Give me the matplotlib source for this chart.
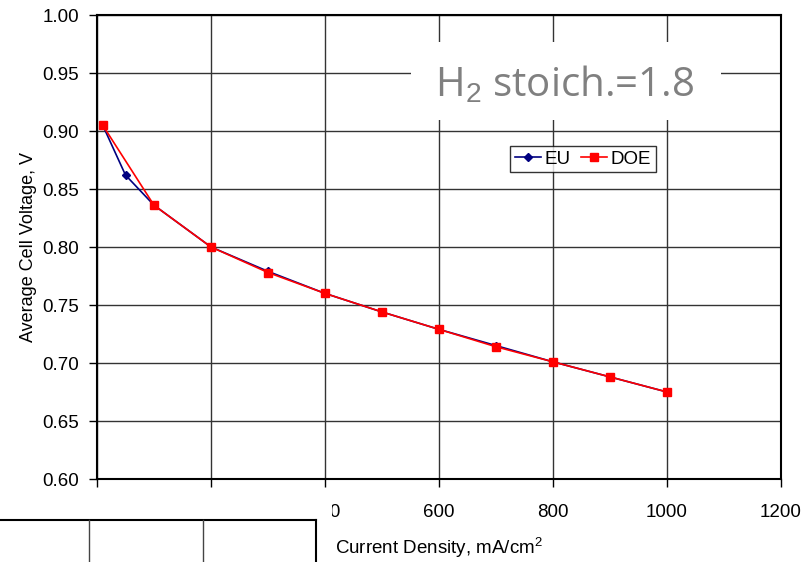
import matplotlib
matplotlib.use("Agg")
import matplotlib.pyplot as plt
from matplotlib.patches import Rectangle
from matplotlib.lines import Line2D

plt.rcParams['font.family'] = ['Liberation Sans', 'DejaVu Sans']
plt.rcParams['mathtext.fontset'] = 'custom'
plt.rcParams['mathtext.rm'] = 'Liberation Sans'

# data
current = [10, 50, 100, 200, 300, 400, 500, 600, 700, 800, 900, 1000]
eu_volt = [0.905, 0.862, 0.836, 0.800, 0.779, 0.760, 0.744, 0.729, 0.715, 0.701, 0.688, 0.675]
doe_current = [10, 100, 200, 300, 400, 500, 600, 700, 800, 900, 1000]
doe_volt = [0.905, 0.836, 0.800, 0.778, 0.760, 0.744, 0.729, 0.714, 0.701, 0.688, 0.675]

x_ticks = [0, 200, 400, 600, 800, 1000, 1200]
y_ticks = [0.60, 0.65, 0.70, 0.75, 0.80, 0.85, 0.90, 0.95, 1.00]

W, H = 811, 562
fig = plt.figure(figsize=(W / 100, H / 100), dpi=100)
ax = fig.add_axes([97 / W, 1 - 479 / H, (781 - 97) / W, (479 - 15) / H])

ax.plot(current, eu_volt, color='#000080', marker='D', markersize=4.5,
        linewidth=1.2, label='EU', zorder=3)
ax.plot(doe_current, doe_volt, color='#ff0000', marker='s', markersize=6,
        linewidth=1.2, label='DOE', zorder=4)

ax.set_xlim(0, 1200)
ax.set_ylim(0.60, 1.00)
ax.set_xticks(x_ticks)
ax.set_yticks(y_ticks)
ax.set_yticklabels([f"{v:.2f}" for v in y_ticks])
ax.grid(True, color='#333333', linewidth=1.0)
ax.set_axisbelow(True)
for s in ax.spines.values():
    s.set_linewidth(1.5)
ax.tick_params(axis='both', labelsize=13.5, direction='out', length=6, width=1)
ax.tick_params(axis='y', pad=7)
ax.tick_params(axis='x', pad=12)

ax.set_xlabel('Current Density, mA/cm$^2$', fontsize=13.5, labelpad=10)
ax.set_ylabel('Average Cell Voltage, V', fontsize=13, labelpad=4)

# title box with white background
ax.add_patch(Rectangle(((411 - 97) / 684, (479 - 120) / 464), 310 / 684, 78 / 464,
                       transform=ax.transAxes, facecolor='white',
                       edgecolor='none', zorder=2.5))
ax.text(0.683, (479 - 86) / 464, 'H$_2$ stoich.=1.8', transform=ax.transAxes,
        fontsize=29, color='#808080', family=['Open Sans', 'DejaVu Sans'],
        ha='center', va='center', zorder=5)

leg = ax.legend(loc='center', bbox_to_anchor=((583 - 97) / 684, (479 - 159) / 464),
                ncol=2, fontsize=13.5, frameon=True, fancybox=False,
                handlelength=1.4, handletextpad=0.2, columnspacing=0.5,
                borderpad=0.25, borderaxespad=0)
leg.get_frame().set_edgecolor('black')
leg.get_frame().set_linewidth(1.0)
leg.set_zorder(6)

# overlay in the lower left corner
fig.add_artist(Rectangle((0, 0), 332 / W, (H - 488) / H, transform=fig.transFigure,
                         facecolor='white', edgecolor='none', zorder=10))
top = 1 - 520 / H
fig.add_artist(Line2D([0, 316 / W], [top, top], transform=fig.transFigure,
                      color='black', linewidth=1.5, zorder=11))
fig.add_artist(Line2D([316 / W, 316 / W], [0, top], transform=fig.transFigure,
                      color='black', linewidth=1.5, zorder=11))
for px in (89, 203):
    fig.add_artist(Line2D([px / W, px / W], [0, top], transform=fig.transFigure,
                          color='#444444', linewidth=1.0, zorder=11))

fig.savefig('out.png', dpi=100)
